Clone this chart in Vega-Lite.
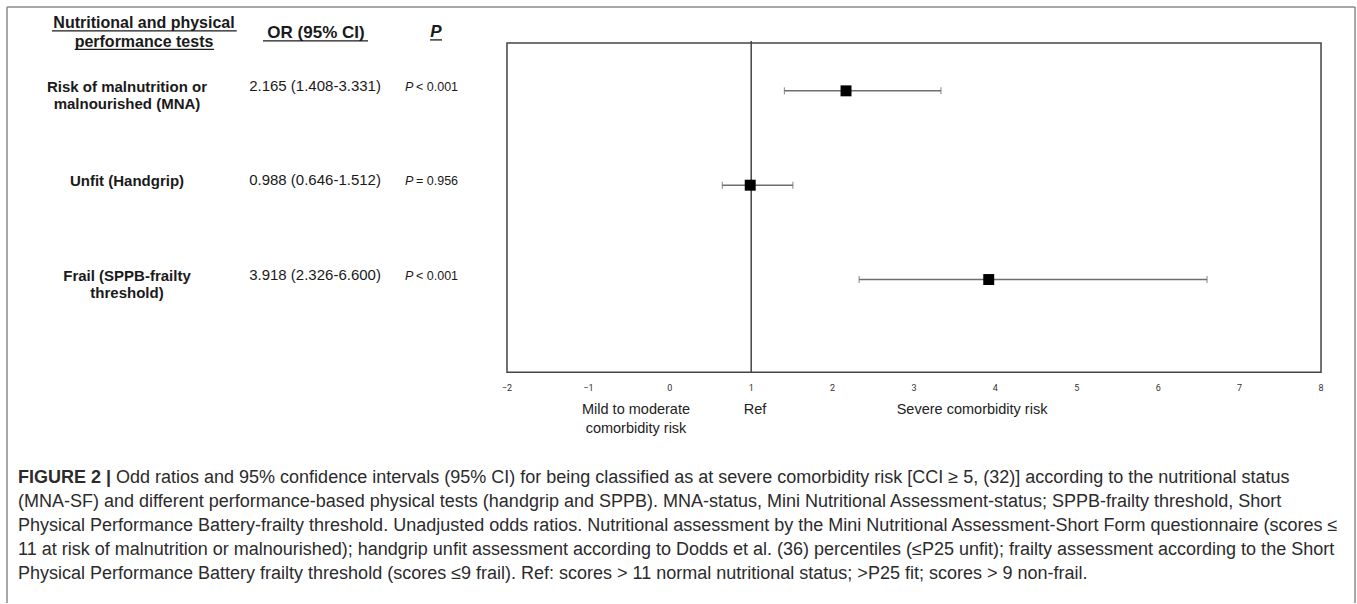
{
  "$schema": "https://vega.github.io/schema/vega-lite/v6.json",
  "width": 1357,
  "height": 604,
  "autosize": {"type": "fit", "contains": "padding"},
  "padding": 0,
  "background": "white",
  "config": {"view": {"stroke": null}, "text": {"font": "Liberation Sans", "color": "#1a1a1a"}},
  "datasets": {
    "tests": [
      {"row": 1, "label": "Risk of malnutrition or\nmalnourished (MNA)", "ci": "2.165 (1.408-3.331)", "pRest": "< 0.001", "or": 2.165, "lo": 1.408, "hi": 3.331},
      {"row": 2, "label": "Unfit (Handgrip)", "ci": "0.988 (0.646-1.512)", "pRest": "= 0.956", "or": 0.988, "lo": 0.646, "hi": 1.512},
      {"row": 3, "label": "Frail (SPPB-frailty\nthreshold)", "ci": "3.918 (2.326-6.600)", "pRest": "< 0.001", "or": 3.918, "lo": 2.326, "hi": 6.6}
    ],
    "ticks": [{"v": -2}, {"v": -1}, {"v": 0}, {"v": 1}, {"v": 2}, {"v": 3}, {"v": 4}, {"v": 5}, {"v": 6}, {"v": 7}, {"v": 8}],
    "notes": [
      {"text": "Mild to moderate\ncomorbidity risk", "v": -0.415},
      {"text": "Ref", "v": 1.047},
      {"text": "Severe comorbidity risk", "v": 3.713}
    ],
    "border": [
      {"a": -8.142, "b": -8.142, "y1": 0.111, "y2": 6.4286},
      {"a": 8.418, "b": 8.418, "y1": 0.111, "y2": 6.4286},
      {"a": -8.142, "b": 8.418, "y1": 0.111, "y2": 0.111}
    ]
  },
  "layer": [
    {
      "data": {"name": "border"},
      "mark": {"type": "rule", "stroke": "#8a8a8a", "strokeWidth": 1.5},
      "encoding": {
        "x": {"field": "a", "type": "quantitative", "scale": {"domain": [-8.228, 8.442], "nice": false, "zero": false}, "axis": null},
        "x2": {"field": "b"},
        "y": {"field": "y1", "type": "quantitative", "scale": {"domain": [0.037, 6.4286], "nice": false, "zero": false, "reverse": true}, "axis": null},
        "y2": {"field": "y2"}
      }
    },
    {
      "data": {"values": [{}]},
      "mark": {"type": "rect", "fill": null, "stroke": "#444444", "strokeWidth": 1.5},
      "encoding": {
        "x": {"datum": -2, "type": "quantitative", "axis": null},
        "x2": {"datum": 8},
        "y": {"datum": 0.492, "type": "quantitative", "axis": null},
        "y2": {"datum": 3.984}
      }
    },
    {
      "data": {"values": [{}]},
      "mark": {"type": "rule", "stroke": "#444444", "strokeWidth": 1.5},
      "encoding": {
        "x": {"datum": 1, "type": "quantitative", "axis": null},
        "y": {"datum": 0.471, "type": "quantitative", "axis": null},
        "y2": {"datum": 3.984}
      }
    },
    {
      "data": {"name": "tests"},
      "mark": {"type": "rule", "stroke": "#6e6e6e", "strokeWidth": 1.5},
      "encoding": {
        "x": {"field": "lo", "type": "quantitative", "axis": null},
        "x2": {"field": "hi"},
        "y": {"field": "row", "type": "quantitative", "axis": null}
      }
    },
    {
      "data": {"name": "tests"},
      "transform": [{"fold": ["lo", "hi"], "as": ["end", "val"]}],
      "mark": {"type": "tick", "orient": "vertical", "color": "#6e6e6e", "size": 7, "thickness": 1.2},
      "encoding": {
        "x": {"field": "val", "type": "quantitative", "axis": null},
        "y": {"field": "row", "type": "quantitative", "axis": null}
      }
    },
    {
      "data": {"name": "tests"},
      "mark": {"type": "point", "shape": "square", "filled": true, "color": "#000000", "size": 120, "opacity": 1},
      "encoding": {
        "x": {"field": "or", "type": "quantitative", "axis": null},
        "y": {"field": "row", "type": "quantitative", "axis": null}
      }
    },
    {
      "data": {"name": "tests"},
      "mark": {"type": "text", "fontWeight": "bold", "fontSize": 15, "align": "center", "baseline": "middle", "lineBreak": "\n", "lineHeight": 17, "yOffset": -4},
      "encoding": {
        "x": {"datum": -6.668, "type": "quantitative", "axis": null},
        "y": {"field": "row", "type": "quantitative", "axis": null},
        "text": {"field": "label"}
      }
    },
    {
      "data": {"name": "tests"},
      "mark": {"type": "text", "fontSize": 15, "align": "center", "baseline": "middle", "yOffset": -5},
      "encoding": {
        "x": {"datum": -4.358, "type": "quantitative", "axis": null},
        "y": {"field": "row", "type": "quantitative", "axis": null},
        "text": {"field": "ci"}
      }
    },
    {
      "data": {"name": "tests"},
      "mark": {"type": "text", "fontSize": 12.5, "fontStyle": "italic", "align": "left", "baseline": "middle", "yOffset": -4},
      "encoding": {
        "x": {"datum": -3.253, "type": "quantitative", "axis": null},
        "y": {"field": "row", "type": "quantitative", "axis": null},
        "text": {"value": "P"}
      }
    },
    {
      "data": {"name": "tests"},
      "mark": {"type": "text", "fontSize": 12.5, "align": "left", "baseline": "middle", "yOffset": -4, "dx": 11},
      "encoding": {
        "x": {"datum": -3.253, "type": "quantitative", "axis": null},
        "y": {"field": "row", "type": "quantitative", "axis": null},
        "text": {"field": "pRest"}
      }
    },
    {
      "data": {"values": [{"t": "Nutritional and physical\nperformance tests"}]},
      "mark": {"type": "text", "fontWeight": "bold", "fontSize": 16, "align": "center", "baseline": "middle", "lineBreak": "\n", "lineHeight": 18.5},
      "encoding": {
        "x": {"datum": -6.459, "type": "quantitative", "axis": null},
        "y": {"datum": 0.281, "type": "quantitative", "axis": null},
        "text": {"field": "t"}
      }
    },
    {
      "data": {"values": [{"t": "OR (95% CI)"}]},
      "mark": {"type": "text", "fontWeight": "bold", "fontSize": 17, "align": "center", "baseline": "middle"},
      "encoding": {
        "x": {"datum": -4.346, "type": "quantitative", "axis": null},
        "y": {"datum": 0.386, "type": "quantitative", "axis": null},
        "text": {"field": "t"}
      }
    },
    {
      "data": {"values": [{"t": "P"}]},
      "mark": {"type": "text", "fontWeight": "bold", "fontStyle": "italic", "fontSize": 17, "align": "center", "baseline": "middle"},
      "encoding": {
        "x": {"datum": -2.872, "type": "quantitative", "axis": null},
        "y": {"datum": 0.376, "type": "quantitative", "axis": null},
        "text": {"field": "t"}
      }
    },
    {
      "data": {"values": [
        {"a": -7.59, "b": -5.32, "y": 0.365},
        {"a": -7.31, "b": -5.6, "y": 0.561},
        {"a": -4.997, "b": -3.707, "y": 0.47},
        {"a": -2.945, "b": -2.798, "y": 0.46}
      ]},
      "mark": {"type": "rule", "stroke": "#1a1a1a", "strokeWidth": 1.3},
      "encoding": {
        "x": {"field": "a", "type": "quantitative", "axis": null},
        "x2": {"field": "b"},
        "y": {"field": "y", "type": "quantitative", "axis": null}
      }
    },
    {
      "data": {"name": "ticks"},
      "mark": {"type": "text", "font": "Roboto", "fontSize": 9, "align": "center", "baseline": "middle", "color": "#333333"},
      "encoding": {
        "x": {"field": "v", "type": "quantitative", "axis": null},
        "y": {"datum": 4.153, "type": "quantitative", "axis": null},
        "text": {"field": "v", "type": "quantitative"}
      }
    },
    {
      "data": {"name": "notes"},
      "mark": {"type": "text", "fontSize": 14.5, "align": "center", "baseline": "middle", "lineBreak": "\n", "lineHeight": 19, "color": "#222222"},
      "encoding": {
        "x": {"field": "v", "type": "quantitative", "axis": null},
        "y": {"datum": 4.386, "type": "quantitative", "axis": null},
        "text": {"field": "text"}
      }
    },
    {
      "data": {"values": [{"t": "FIGURE 2 |"}]},
      "mark": {"type": "text", "fontWeight": "bold", "fontSize": 18, "align": "left", "baseline": "middle", "color": "#2b2b2b"},
      "encoding": {
        "x": {"datum": -8.007, "type": "quantitative", "axis": null},
        "y": {"datum": 5.106, "type": "quantitative", "axis": null},
        "text": {"field": "t"}
      }
    },
    {
      "data": {"values": [{"t": "Odd ratios and 95% confidence intervals (95% CI) for being classified as at severe comorbidity risk [CCI ≥ 5, (32)] according to the nutritional status"}]},
      "mark": {"type": "text", "fontSize": 18, "align": "left", "baseline": "middle", "color": "#2b2b2b"},
      "encoding": {
        "x": {"datum": -6.803, "type": "quantitative", "axis": null},
        "y": {"datum": 5.106, "type": "quantitative", "axis": null},
        "text": {"field": "t"}
      }
    },
    {
      "data": {"values": [{"t": "(MNA-SF) and different performance-based physical tests (handgrip and SPPB). MNA-status, Mini Nutritional Assessment-status; SPPB-frailty threshold, Short\nPhysical Performance Battery-frailty threshold. Unadjusted odds ratios. Nutritional assessment by the Mini Nutritional Assessment-Short Form questionnaire (scores ≤\n11 at risk of malnutrition or malnourished); handgrip unfit assessment according to Dodds et al. (36) percentiles (≤P25 unfit); frailty assessment according to the Short\nPhysical Performance Battery frailty threshold (scores ≤9 frail). Ref: scores > 11 normal nutritional status; >P25 fit; scores > 9 non-frail."}]},
      "mark": {"type": "text", "fontSize": 18, "align": "left", "baseline": "middle", "lineBreak": "\n", "lineHeight": 24, "color": "#2b2b2b"},
      "encoding": {
        "x": {"datum": -8.007, "type": "quantitative", "axis": null},
        "y": {"datum": 5.36, "type": "quantitative", "axis": null},
        "text": {"field": "t"}
      }
    }
  ]
}
